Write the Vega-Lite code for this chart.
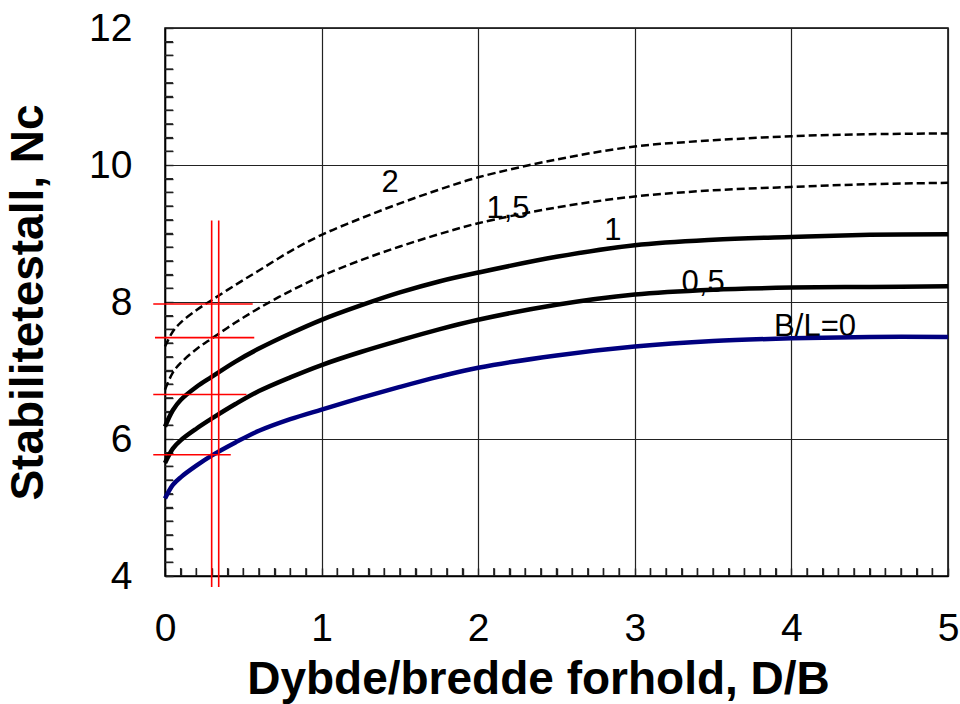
{
  "$schema": "https://vega.github.io/schema/vega-lite/v6.json",
  "autosize": "none",
  "width": 783,
  "height": 548,
  "padding": {"left": 165, "top": 28, "right": 12, "bottom": 128},
  "background": "white",
  "config": {
    "view": {"stroke": "black", "strokeWidth": 1.5},
    "font": "Liberation Sans",
    "axis": {
      "domainColor": "black",
      "domainWidth": 1.5,
      "gridColor": "#222222",
      "gridWidth": 1.2,
      "tickColor": "#222222",
      "tickWidth": 1.4,
      "labelFont": "Liberation Sans",
      "labelFontSize": 39,
      "labelColor": "black",
      "titleFont": "Liberation Sans",
      "titleFontSize": 46,
      "titleFontWeight": "bold",
      "titleColor": "black",
      "labelOverlap": false,
      "labelFlush": false
    }
  },
  "datasets": {
    "curves": [
      {"series": "0", "x": 0, "y": 5.13}, {"series": "0", "x": 0.05, "y": 5.33}, {"series": "0", "x": 0.1, "y": 5.44}, {"series": "0", "x": 0.2, "y": 5.61}, {"series": "0", "x": 0.3, "y": 5.76}, {"series": "0", "x": 0.45, "y": 5.95}, {"series": "0", "x": 0.6, "y": 6.12}, {"series": "0", "x": 0.8, "y": 6.29}, {"series": "0", "x": 1, "y": 6.43}, {"series": "0", "x": 1.25, "y": 6.6}, {"series": "0", "x": 1.5, "y": 6.76}, {"series": "0", "x": 1.75, "y": 6.91}, {"series": "0", "x": 2, "y": 7.04}, {"series": "0", "x": 2.5, "y": 7.22}, {"series": "0", "x": 3, "y": 7.35}, {"series": "0", "x": 3.5, "y": 7.43}, {"series": "0", "x": 4, "y": 7.47}, {"series": "0", "x": 4.5, "y": 7.49}, {"series": "0", "x": 5, "y": 7.49},
      {"series": "0.5", "x": 0, "y": 5.65}, {"series": "0.5", "x": 0.05, "y": 5.86}, {"series": "0.5", "x": 0.1, "y": 5.98}, {"series": "0.5", "x": 0.2, "y": 6.15}, {"series": "0.5", "x": 0.3, "y": 6.3}, {"series": "0.5", "x": 0.45, "y": 6.51}, {"series": "0.5", "x": 0.6, "y": 6.7}, {"series": "0.5", "x": 0.8, "y": 6.9}, {"series": "0.5", "x": 1, "y": 7.08}, {"series": "0.5", "x": 1.25, "y": 7.27}, {"series": "0.5", "x": 1.5, "y": 7.44}, {"series": "0.5", "x": 1.75, "y": 7.6}, {"series": "0.5", "x": 2, "y": 7.74}, {"series": "0.5", "x": 2.5, "y": 7.96}, {"series": "0.5", "x": 3, "y": 8.11}, {"series": "0.5", "x": 3.5, "y": 8.18}, {"series": "0.5", "x": 4, "y": 8.21}, {"series": "0.5", "x": 4.5, "y": 8.22}, {"series": "0.5", "x": 5, "y": 8.23},
      {"series": "1", "x": 0, "y": 6.18}, {"series": "1", "x": 0.05, "y": 6.42}, {"series": "1", "x": 0.1, "y": 6.57}, {"series": "1", "x": 0.2, "y": 6.76}, {"series": "1", "x": 0.3, "y": 6.91}, {"series": "1", "x": 0.45, "y": 7.13}, {"series": "1", "x": 0.6, "y": 7.32}, {"series": "1", "x": 0.8, "y": 7.54}, {"series": "1", "x": 1, "y": 7.74}, {"series": "1", "x": 1.25, "y": 7.95}, {"series": "1", "x": 1.5, "y": 8.14}, {"series": "1", "x": 1.75, "y": 8.3}, {"series": "1", "x": 2, "y": 8.43}, {"series": "1", "x": 2.5, "y": 8.66}, {"series": "1", "x": 3, "y": 8.83}, {"series": "1", "x": 3.5, "y": 8.91}, {"series": "1", "x": 4, "y": 8.95}, {"series": "1", "x": 4.5, "y": 8.98}, {"series": "1", "x": 5, "y": 8.99},
      {"series": "1.5", "x": 0, "y": 6.72}, {"series": "1.5", "x": 0.05, "y": 6.97}, {"series": "1.5", "x": 0.1, "y": 7.11}, {"series": "1.5", "x": 0.2, "y": 7.31}, {"series": "1.5", "x": 0.3, "y": 7.47}, {"series": "1.5", "x": 0.45, "y": 7.7}, {"series": "1.5", "x": 0.6, "y": 7.91}, {"series": "1.5", "x": 0.8, "y": 8.16}, {"series": "1.5", "x": 1, "y": 8.38}, {"series": "1.5", "x": 1.25, "y": 8.61}, {"series": "1.5", "x": 1.5, "y": 8.81}, {"series": "1.5", "x": 1.75, "y": 8.99}, {"series": "1.5", "x": 2, "y": 9.15}, {"series": "1.5", "x": 2.5, "y": 9.38}, {"series": "1.5", "x": 3, "y": 9.54}, {"series": "1.5", "x": 3.5, "y": 9.63}, {"series": "1.5", "x": 4, "y": 9.68}, {"series": "1.5", "x": 4.5, "y": 9.72}, {"series": "1.5", "x": 5, "y": 9.74},
      {"series": "2", "x": 0, "y": 7.35}, {"series": "2", "x": 0.05, "y": 7.57}, {"series": "2", "x": 0.1, "y": 7.7}, {"series": "2", "x": 0.2, "y": 7.88}, {"series": "2", "x": 0.3, "y": 8.03}, {"series": "2", "x": 0.45, "y": 8.25}, {"series": "2", "x": 0.6, "y": 8.46}, {"series": "2", "x": 0.8, "y": 8.74}, {"series": "2", "x": 1, "y": 8.98}, {"series": "2", "x": 1.25, "y": 9.22}, {"series": "2", "x": 1.5, "y": 9.44}, {"series": "2", "x": 1.75, "y": 9.64}, {"series": "2", "x": 2, "y": 9.82}, {"series": "2", "x": 2.5, "y": 10.08}, {"series": "2", "x": 3, "y": 10.27}, {"series": "2", "x": 3.5, "y": 10.36}, {"series": "2", "x": 4, "y": 10.42}, {"series": "2", "x": 4.5, "y": 10.45}, {"series": "2", "x": 5, "y": 10.46}
    ],
    "labels": [
      {"x": 1.437, "y": 9.61, "text": "2"},
      {"x": 2.19, "y": 9.22, "text": "1,5"},
      {"x": 2.86, "y": 8.905, "text": "1"},
      {"x": 3.436, "y": 8.15, "text": "0,5"},
      {"x": 4.151, "y": 7.5, "text": "B/L=0"}
    ],
    "redlines": [
      {"x": 0.298, "x2": 0.298, "y": 3.84, "y2": 9.19},
      {"x": 0.343, "x2": 0.343, "y": 3.84, "y2": 9.19},
      {"x": -0.075, "x2": 0.56, "y": 7.97, "y2": 7.97},
      {"x": -0.064, "x2": 0.57, "y": 7.48, "y2": 7.48},
      {"x": -0.075, "x2": 0.52, "y": 6.65, "y2": 6.65},
      {"x": -0.075, "x2": 0.42, "y": 5.77, "y2": 5.77}
    ],
    "xticks": [
      {"v": 0.1}, {"v": 0.2}, {"v": 0.3}, {"v": 0.4}, {"v": 0.5}, {"v": 0.6}, {"v": 0.7}, {"v": 0.8}, {"v": 0.9},
      {"v": 1.1}, {"v": 1.2}, {"v": 1.3}, {"v": 1.4}, {"v": 1.5}, {"v": 1.6}, {"v": 1.7}, {"v": 1.8}, {"v": 1.9},
      {"v": 2.1}, {"v": 2.2}, {"v": 2.3}, {"v": 2.4}, {"v": 2.5}, {"v": 2.6}, {"v": 2.7}, {"v": 2.8}, {"v": 2.9},
      {"v": 3.1}, {"v": 3.2}, {"v": 3.3}, {"v": 3.4}, {"v": 3.5}, {"v": 3.6}, {"v": 3.7}, {"v": 3.8}, {"v": 3.9},
      {"v": 4.1}, {"v": 4.2}, {"v": 4.3}, {"v": 4.4}, {"v": 4.5}, {"v": 4.6}, {"v": 4.7}, {"v": 4.8}, {"v": 4.9}
    ],
    "yticks": [
      {"v": 4.2}, {"v": 4.4}, {"v": 4.6}, {"v": 4.8}, {"v": 5}, {"v": 5.2}, {"v": 5.4}, {"v": 5.6}, {"v": 5.8},
      {"v": 6.2}, {"v": 6.4}, {"v": 6.6}, {"v": 6.8}, {"v": 7}, {"v": 7.2}, {"v": 7.4}, {"v": 7.6}, {"v": 7.8},
      {"v": 8.2}, {"v": 8.4}, {"v": 8.6}, {"v": 8.8}, {"v": 9}, {"v": 9.2}, {"v": 9.4}, {"v": 9.6}, {"v": 9.8},
      {"v": 10.2}, {"v": 10.4}, {"v": 10.6}, {"v": 10.8}, {"v": 11}, {"v": 11.2}, {"v": 11.4}, {"v": 11.6}, {"v": 11.8}
    ]
  },
  "layer": [
    {
      "data": {"name": "labels"},
      "mark": {"type": "text", "font": "Liberation Sans", "fontSize": 31, "color": "black", "align": "center", "baseline": "alphabetic"},
      "encoding": {
        "x": {
          "field": "x", "type": "quantitative",
          "scale": {"domain": [0, 5], "nice": false, "zero": false},
          "title": "Dybde/bredde forhold, D/B",
          "axis": {
            "tickCount": 55,
            "ticks": true,
            "tickSize": -8,
            "labelPadding": 41,
            "labelExpr": "abs(datum.value - round(datum.value)) < 0.001 ? format(datum.value, 'd') : ''",
            "grid": true,
            "gridOpacity": {"condition": {"test": "abs(datum.value - round(datum.value)) < 0.001", "value": 1}, "value": 0},
            "titlePadding": 9,
            "titleX": 373
          }
        },
        "y": {
          "field": "y", "type": "quantitative",
          "scale": {"domain": [4, 12], "nice": false, "zero": false},
          "title": "Stabilitetestall, Nᴄ",
          "axis": {
            "tickCount": 45,
            "ticks": true,
            "tickSize": -8,
            "labelPadding": 41,
            "labelExpr": "(abs(datum.value - round(datum.value)) < 0.001 && round(datum.value) % 2 == 0) ? format(datum.value, 'd') : ''",
            "grid": true,
            "gridOpacity": {"condition": {"test": "abs(datum.value - round(datum.value)) < 0.001 && round(datum.value) % 2 == 0", "value": 1}, "value": 0},
            "titlePadding": 36
          }
        },
        "text": {"field": "text"}
      }
    },
    {
      "data": {"name": "xticks"},
      "mark": {"type": "rule", "color": "#222222", "strokeWidth": 1.4},
      "encoding": {
        "x": {"field": "v", "type": "quantitative", "title": "Dybde/bredde forhold, D/B"},
        "y": {"datum": 4, "type": "quantitative", "title": "Stabilitetestall, Nᴄ"},
        "y2": {"datum": 4.117}
      }
    },
    {
      "data": {"name": "yticks"},
      "mark": {"type": "rule", "color": "#222222", "strokeWidth": 1.4},
      "encoding": {
        "y": {"field": "v", "type": "quantitative", "title": "Stabilitetestall, Nᴄ"},
        "x": {"datum": 0, "type": "quantitative", "title": "Dybde/bredde forhold, D/B"},
        "x2": {"datum": 0.051}
      }
    },
    {
      "data": {"name": "curves"},
      "transform": [{"filter": {"field": "series", "oneOf": ["0.5", "1"]}}],
      "mark": {"type": "line", "interpolate": "catmull-rom", "strokeWidth": 4.5, "color": "black", "strokeCap": "butt"},
      "encoding": {
        "x": {"field": "x", "type": "quantitative", "title": "Dybde/bredde forhold, D/B"},
        "y": {"field": "y", "type": "quantitative", "title": "Stabilitetestall, Nᴄ"},
        "detail": {"field": "series"}
      }
    },
    {
      "data": {"name": "curves"},
      "transform": [{"filter": {"field": "series", "oneOf": ["1.5", "2"]}}],
      "mark": {"type": "line", "interpolate": "catmull-rom", "strokeWidth": 2.5, "color": "black", "strokeDash": [8, 4], "strokeCap": "butt"},
      "encoding": {
        "x": {"field": "x", "type": "quantitative", "title": "Dybde/bredde forhold, D/B"},
        "y": {"field": "y", "type": "quantitative", "title": "Stabilitetestall, Nᴄ"},
        "detail": {"field": "series"}
      }
    },
    {
      "data": {"name": "curves"},
      "transform": [{"filter": {"field": "series", "equal": "0"}}],
      "mark": {"type": "line", "interpolate": "catmull-rom", "strokeWidth": 4.5, "color": "#00007f", "strokeCap": "butt"},
      "encoding": {
        "x": {"field": "x", "type": "quantitative", "title": "Dybde/bredde forhold, D/B"},
        "y": {"field": "y", "type": "quantitative", "title": "Stabilitetestall, Nᴄ"}
      }
    },
    {
      "data": {"name": "redlines"},
      "mark": {"type": "rule", "color": "#ff0000", "strokeWidth": 1.6, "clip": false},
      "encoding": {
        "x": {"field": "x", "type": "quantitative", "title": "Dybde/bredde forhold, D/B"},
        "x2": {"field": "x2"},
        "y": {"field": "y", "type": "quantitative", "title": "Stabilitetestall, Nᴄ"},
        "y2": {"field": "y2"}
      }
    }
  ]
}
